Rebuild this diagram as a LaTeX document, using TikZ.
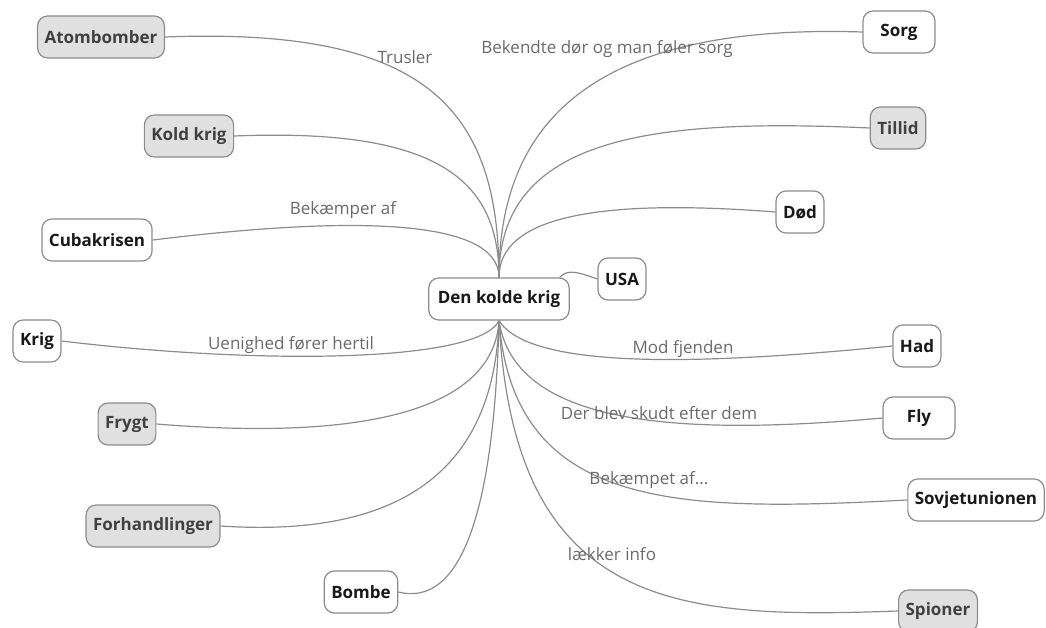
\documentclass[tikz,border=0pt]{standalone}
\usepackage{fontspec}
\setmainfont{Open Sans}
\definecolor{linegray}{HTML}{8C8C8C}
\definecolor{boxgray}{HTML}{E0E0E0}
\definecolor{textgray}{HTML}{6A6A6A}
\begin{document}
\begin{tikzpicture}[x=1pt,y=-1pt,
    box/.style={draw=linegray,line width=1.2pt,rounded corners=10pt,fill=white,
        minimum height=42pt,inner xsep=7pt,font=\fontsize{17}{20}\selectfont\bfseries,text=black!90},
    greybox/.style={box,fill=boxgray,text=black!75},
    lbl/.style={font=\fontsize{17}{20}\selectfont,text=textgray,inner sep=0pt},
    link/.style={draw=linegray,line width=1.2pt}]
%    \draw[orange,thin] (0,0) grid[step=50] (1046,628);
    \useasboundingbox (0,0) rectangle (1046,628);

    % centre
    \node[box,inner xsep=9pt] (hub) at (499,299) {Den kolde krig};

    % left side
    \node[greybox] (atom)  at (101,37)  {Atombomber};
    \node[greybox] (kold)  at (189,136) {Kold krig};
    \node[box]     (cuba)  at (97,240)  {Cubakrisen};
    \node[box]     (krig)  at (37,341)  {Krig};
    \node[greybox] (frygt) at (127,424) {Frygt};
    \node[greybox] (forh)  at (153,526) {Forhandlinger};
    \node[box]     (bombe) at (361,592) {Bombe};

    % right side
    \node[box,minimum width=72pt] (sorg) at (899,32) {Sorg};
    \node[greybox] (tillid) at (898,128) {Tillid};
    \node[box]     (dod)   at (800,212) {Død};
    \node[box]     (usa)   at (622,279) {USA};
    \node[box]     (had)   at (917,346) {Had};
    \node[box,minimum width=72pt] (fly) at (919,418) {Fly};
    \node[box]     (sovj)  at (976,500) {Sovjetunionen};
    \node[greybox] (spion) at (938,611) {Spioner};

    % upper links
    \draw[link] (hub.north) .. controls +(0,-170) and +(260,-10) .. (atom.east);
    \draw[link] (hub.north) .. controls +(0,-100) and +(200,-8) .. (kold.east);
    \draw[link] (hub.north) .. controls +(0,-63) and +(180,-22) .. (cuba.east);
    \draw[link] (hub.north) .. controls +(0,-170) and +(-250,-8) .. (sorg.west);
    \draw[link] (hub.north) .. controls +(0,-140) and +(-220,-10) .. (tillid.west);
    \draw[link] (hub.north) .. controls +(0,-60) and +(-180,-14) .. (dod.west);
    \draw[link] ([xshift=-10pt]hub.north east) .. controls +(8,-10) and +(-15,-5) .. (usa.west);

    % lower links
    \draw[link] (hub.south) .. controls +(-20,42) and +(200,24) .. (krig.east);
    \draw[link] (hub.south) .. controls +(-5,85) and +(220,18) .. (frygt.east);
    \draw[link] (hub.south) .. controls +(-5,150) and +(180,12) .. (forh.east);
    \draw[link] (hub.south) .. controls +(-5,200) and +(60,15) .. (bombe.east);
    \draw[link] (hub.south) .. controls +(30,48) and +(-200,20) .. (had.west);
    \draw[link] (hub.south) .. controls +(15,100) and +(-220,20) .. (fly.west);
    \draw[link] (hub.south) .. controls +(15,190) and +(-230,12) .. (sovj.west);
    \draw[link] (hub.south) .. controls +(15,290) and +(-220,8) .. (spion.west);

    % link labels
    \node[lbl] (ltrus) at (405,57)  {Trusler};
    \node[lbl] (lbek)  at (607,49)  {Bekendte dør og man føler sorg};
    \node[lbl] (lbaf)  at (343,210) {Bekæmper af};
    \node[lbl] (luen)  at (291,345) {Uenighed fører hertil};
    \node[lbl] (lmod)  at (683,349) {Mod fjenden};
    \node[lbl] (lder)  at (659,413) {Der blev skudt efter dem};
    \node[lbl] (lbkp)  at (649,480) {Bekæmpet af...};
    \node[lbl] (llak)  at (612,554) {lækker info};

\end{tikzpicture}
\end{document}
